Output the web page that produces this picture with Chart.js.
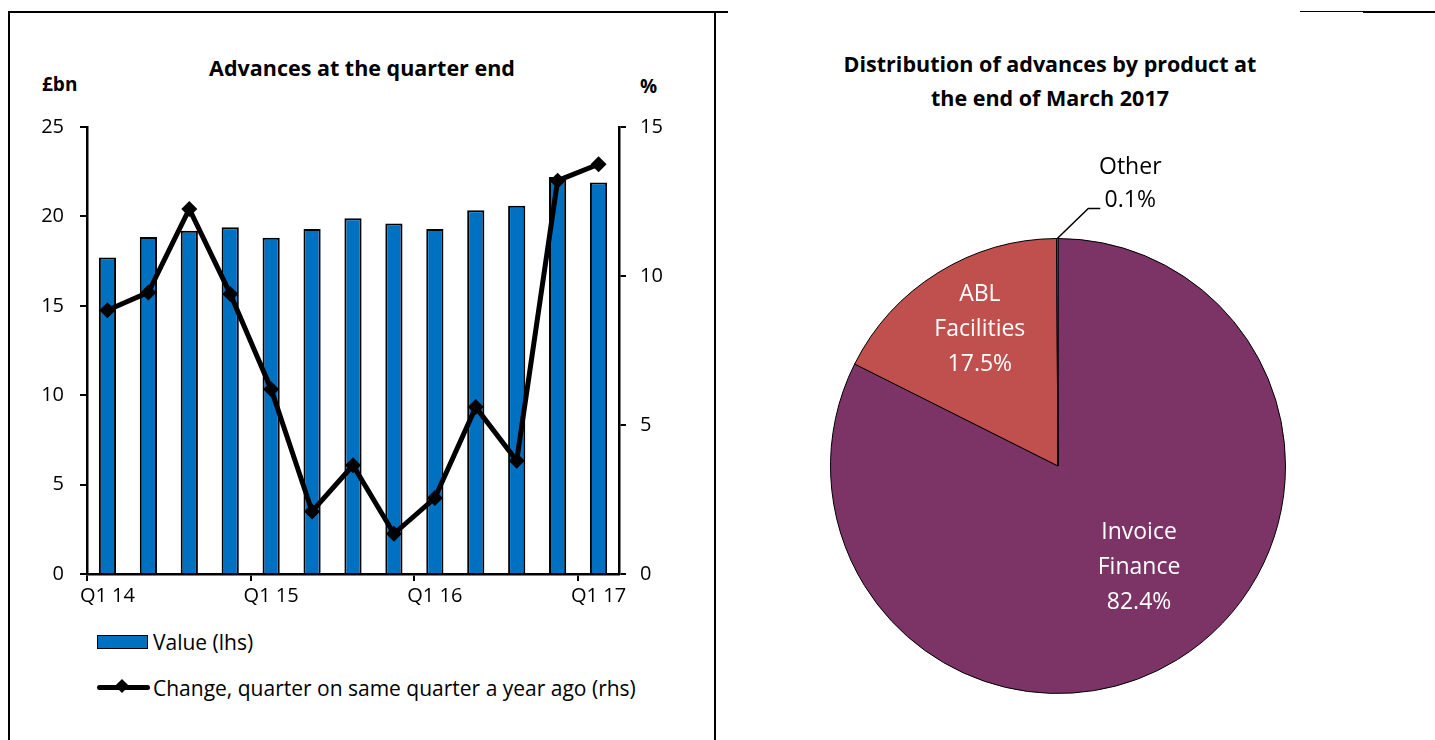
<!DOCTYPE html>
<html>
<head>
<meta charset="utf-8">
<script src="https://cdn.jsdelivr.net/npm/chart.js@4.4.1/dist/chart.umd.min.js"></script>
<style>
    body { margin: 0; width: 1435px; height: 740px; overflow: hidden; background: #fff; font-family: "Open Sans", sans-serif; color: #000; }
    .abs { position: absolute; }
    .rule { position: absolute; background: #000; }
    .title { position: absolute; font-weight: bold; font-size: 21.5px; line-height: 34px; text-align: center; white-space: nowrap; }
    .unit { position: absolute; font-weight: bold; font-size: 19px; line-height: 24px; }
    .legend-text { position: absolute; font-size: 21px; line-height: 24px; white-space: nowrap; }
</style>
</head>
<body>

<!-- panel frame -->
<div class="rule" style="left:8px; top:11px; width:708px; height:2px;"></div>
<div class="rule" style="left:8px; top:11px; width:2px; height:729px;"></div>
<div class="rule" style="left:714px; top:11px; width:2px; height:729px;"></div>
<div class="rule" style="left:714px; top:11px; width:14px; height:2px;"></div>
<div class="rule" style="left:1300px; top:11px; width:64px; height:1px;"></div>
<div class="rule" style="left:1363px; top:11px; width:72px; height:2px;"></div>

<!-- left chart -->
<div class="title" style="left:162px; top:51px; width:400px;">Advances at the quarter end</div>
<div class="unit" style="left:42px; top:72px;">£bn</div>
<div class="unit" style="left:640px; top:74px;">%</div>
<canvas id="barChart" class="abs" width="700" height="600" style="left:10px; top:14px;"></canvas>

<div class="abs" style="left:97px; top:635px; width:49px; height:12px; background:#0070C0; border:1.5px solid #000;"></div>
<div class="legend-text" style="left:153px; top:630px;">Value (lhs)</div>
<div class="abs" style="left:97px; top:685px; width:53px; height:5px; background:#000; border-radius:3px;"></div>
<div class="abs" style="left:117px; top:681px; width:10px; height:10px; background:#000; transform:rotate(45deg);"></div>
<div class="legend-text" style="left:153px; top:676px;">Change, quarter on same quarter a year ago (rhs)</div>

<!-- right chart -->
<div class="title" style="left:800px; top:47px; width:500px;">Distribution of advances by product at<br>the end of March 2017</div>
<canvas id="pieChart" class="abs" width="640" height="610" style="left:730px; top:130px;"></canvas>

<script>
// quarterly advances
const quarters = ['Q1 14', 'Q2 14', 'Q3 14', 'Q4 14', 'Q1 15', 'Q2 15', 'Q3 15', 'Q4 15',
                  'Q1 16', 'Q2 16', 'Q3 16', 'Q4 16', 'Q1 17'];
const advanceValues = [17.7, 18.85, 19.2, 19.4, 18.8, 19.3, 19.9, 19.6, 19.3, 20.35, 20.6, 22.2, 21.9];
const yearOnYearChange = [8.85, 9.45, 12.25, 9.4, 6.2, 2.1, 3.65, 1.35, 2.55, 5.6, 3.8, 13.2, 13.75];
const lhsTicks = [0, 5, 10, 15, 20, 25];
const rhsTicks = [0, 5, 10, 15];

// product split, March 2017
const productLabels = ['Invoice Finance', 'ABL Facilities', 'Other'];
const productShares = [82.4, 17.5, 0.1];

const tickFont = { family: 'Open Sans', size: 20 };

new Chart(document.getElementById('barChart'), {
    data: {
        labels: quarters,
        datasets: [
            {
                type: 'line',
                label: 'Change, quarter on same quarter a year ago (rhs)',
                data: yearOnYearChange,
                yAxisID: 'y1',
                order: 1,
                borderColor: '#000',
                backgroundColor: '#000',
                borderWidth: 5,
                pointStyle: 'rectRot',
                pointRadius: 8,
                pointBackgroundColor: '#000',
                pointBorderWidth: 0,
                tension: 0
            },
            {
                type: 'bar',
                label: 'Value (lhs)',
                data: advanceValues,
                yAxisID: 'y',
                order: 2,
                backgroundColor: '#0070C0',
                borderColor: '#000',
                borderWidth: 2,
                barPercentage: 0.42,
                categoryPercentage: 1
            }
        ]
    },
    options: {
        responsive: false,
        animation: false,
        devicePixelRatio: 1,
        layout: { padding: { top: 113, left: 0, right: 0, bottom: 0 } },
        plugins: { legend: { display: false }, tooltip: { enabled: false } },
        scales: {
            x: {
                offset: true,
                grid: {
                    offset: true,
                    drawOnChartArea: false,
                    tickLength: 7,
                    lineWidth: 2,
                    // tick marks only at the start of each year
                    color: ctx => (ctx.index !== undefined && ctx.index % 4 === 0) ? '#000' : 'rgba(0,0,0,0)'
                },
                border: { color: '#000', width: 2.5 },
                ticks: {
                    autoSkip: false,
                    maxRotation: 0,
                    padding: 3,
                    color: '#000',
                    font: tickFont,
                    callback: (v, i) => i % 4 === 0 ? quarters[i] : ''
                },
                afterFit: s => { s.height = 40; }
            },
            y: {
                position: 'left',
                min: 0,
                max: 25,
                afterBuildTicks: s => { s.ticks = lhsTicks.map(v => ({ value: v })); },
                grid: { drawOnChartArea: false, tickLength: 7, lineWidth: 2, color: '#000' },
                border: { color: '#000', width: 2.5 },
                ticks: { padding: 16, color: '#000', font: tickFont },
                afterFit: s => { s.width = 77; }
            },
            y1: {
                position: 'right',
                min: 0,
                max: 15,
                afterBuildTicks: s => { s.ticks = rhsTicks.map(v => ({ value: v })); },
                grid: { drawOnChartArea: false, tickLength: 7, lineWidth: 2, color: '#000' },
                border: { color: '#000', width: 2.5 },
                ticks: { padding: 14, color: '#000', font: tickFont },
                afterFit: s => { s.width = 91; }
            }
        }
    }
});

// where each slice label sits: fraction of radius and angle nudge (deg)
const sliceLabelStyle = [
    { frac: 0.57, nudge: -7, color: '#fff' },
    { frac: 0.69, nudge: 2, color: '#fff' },
    { outside: true, color: '#000' }
];

const pieLabelsPlugin = {
    id: 'pieLabels',
    afterDatasetsDraw(chart) {
        const ctx = chart.ctx;
        const meta = chart.getDatasetMeta(0);
        ctx.save();
        ctx.font = '23px "Open Sans"';
        ctx.textAlign = 'center';
        ctx.textBaseline = 'middle';
        meta.data.forEach((arc, i) => {
            const p = arc.getProps(['x', 'y', 'startAngle', 'endAngle', 'outerRadius'], true);
            const mid = (p.startAngle + p.endAngle) / 2;
            const style = sliceLabelStyle[i];
            const pct = productShares[i].toFixed(1) + '%';
            ctx.fillStyle = style.color;
            if (style.outside) {
                const ox = p.x + Math.cos(mid) * p.outerRadius;
                const oy = p.y + Math.sin(mid) * p.outerRadius;
                ctx.strokeStyle = '#000';
                ctx.lineWidth = 1.5;
                ctx.beginPath();
                ctx.moveTo(ox, oy);
                ctx.lineTo(ox + 31, oy - 30);
                ctx.lineTo(ox + 43, oy - 30);
                ctx.stroke();
                ctx.fillText(productLabels[i], ox + 73, oy - 71);
                ctx.fillText(pct, ox + 73, oy - 38);
                return;
            }
            const a = mid + style.nudge * Math.PI / 180;
            const cx = p.x + Math.cos(a) * p.outerRadius * style.frac;
            const cy = p.y + Math.sin(a) * p.outerRadius * style.frac;
            const lines = productLabels[i].split(' ').concat([pct]);
            const lh = 35;
            lines.forEach((t, k) => {
                ctx.fillText(t, cx, cy + (k - (lines.length - 1) / 2) * lh);
            });
        });
        ctx.restore();
    }
};

new Chart(document.getElementById('pieChart'), {
    type: 'pie',
    data: {
        labels: productLabels,
        datasets: [{
            data: productShares,
            backgroundColor: ['#7C3467', '#C0504D', '#4BACC6'],
            borderColor: '#000',
            borderWidth: 1
        }]
    },
    options: {
        responsive: false,
        animation: false,
        devicePixelRatio: 1,
        layout: { padding: { left: 100, right: 84, top: 108, bottom: 46 } },
        plugins: { legend: { display: false }, tooltip: { enabled: false } }
    },
    plugins: [pieLabelsPlugin]
});
</script>
</body>
</html>
